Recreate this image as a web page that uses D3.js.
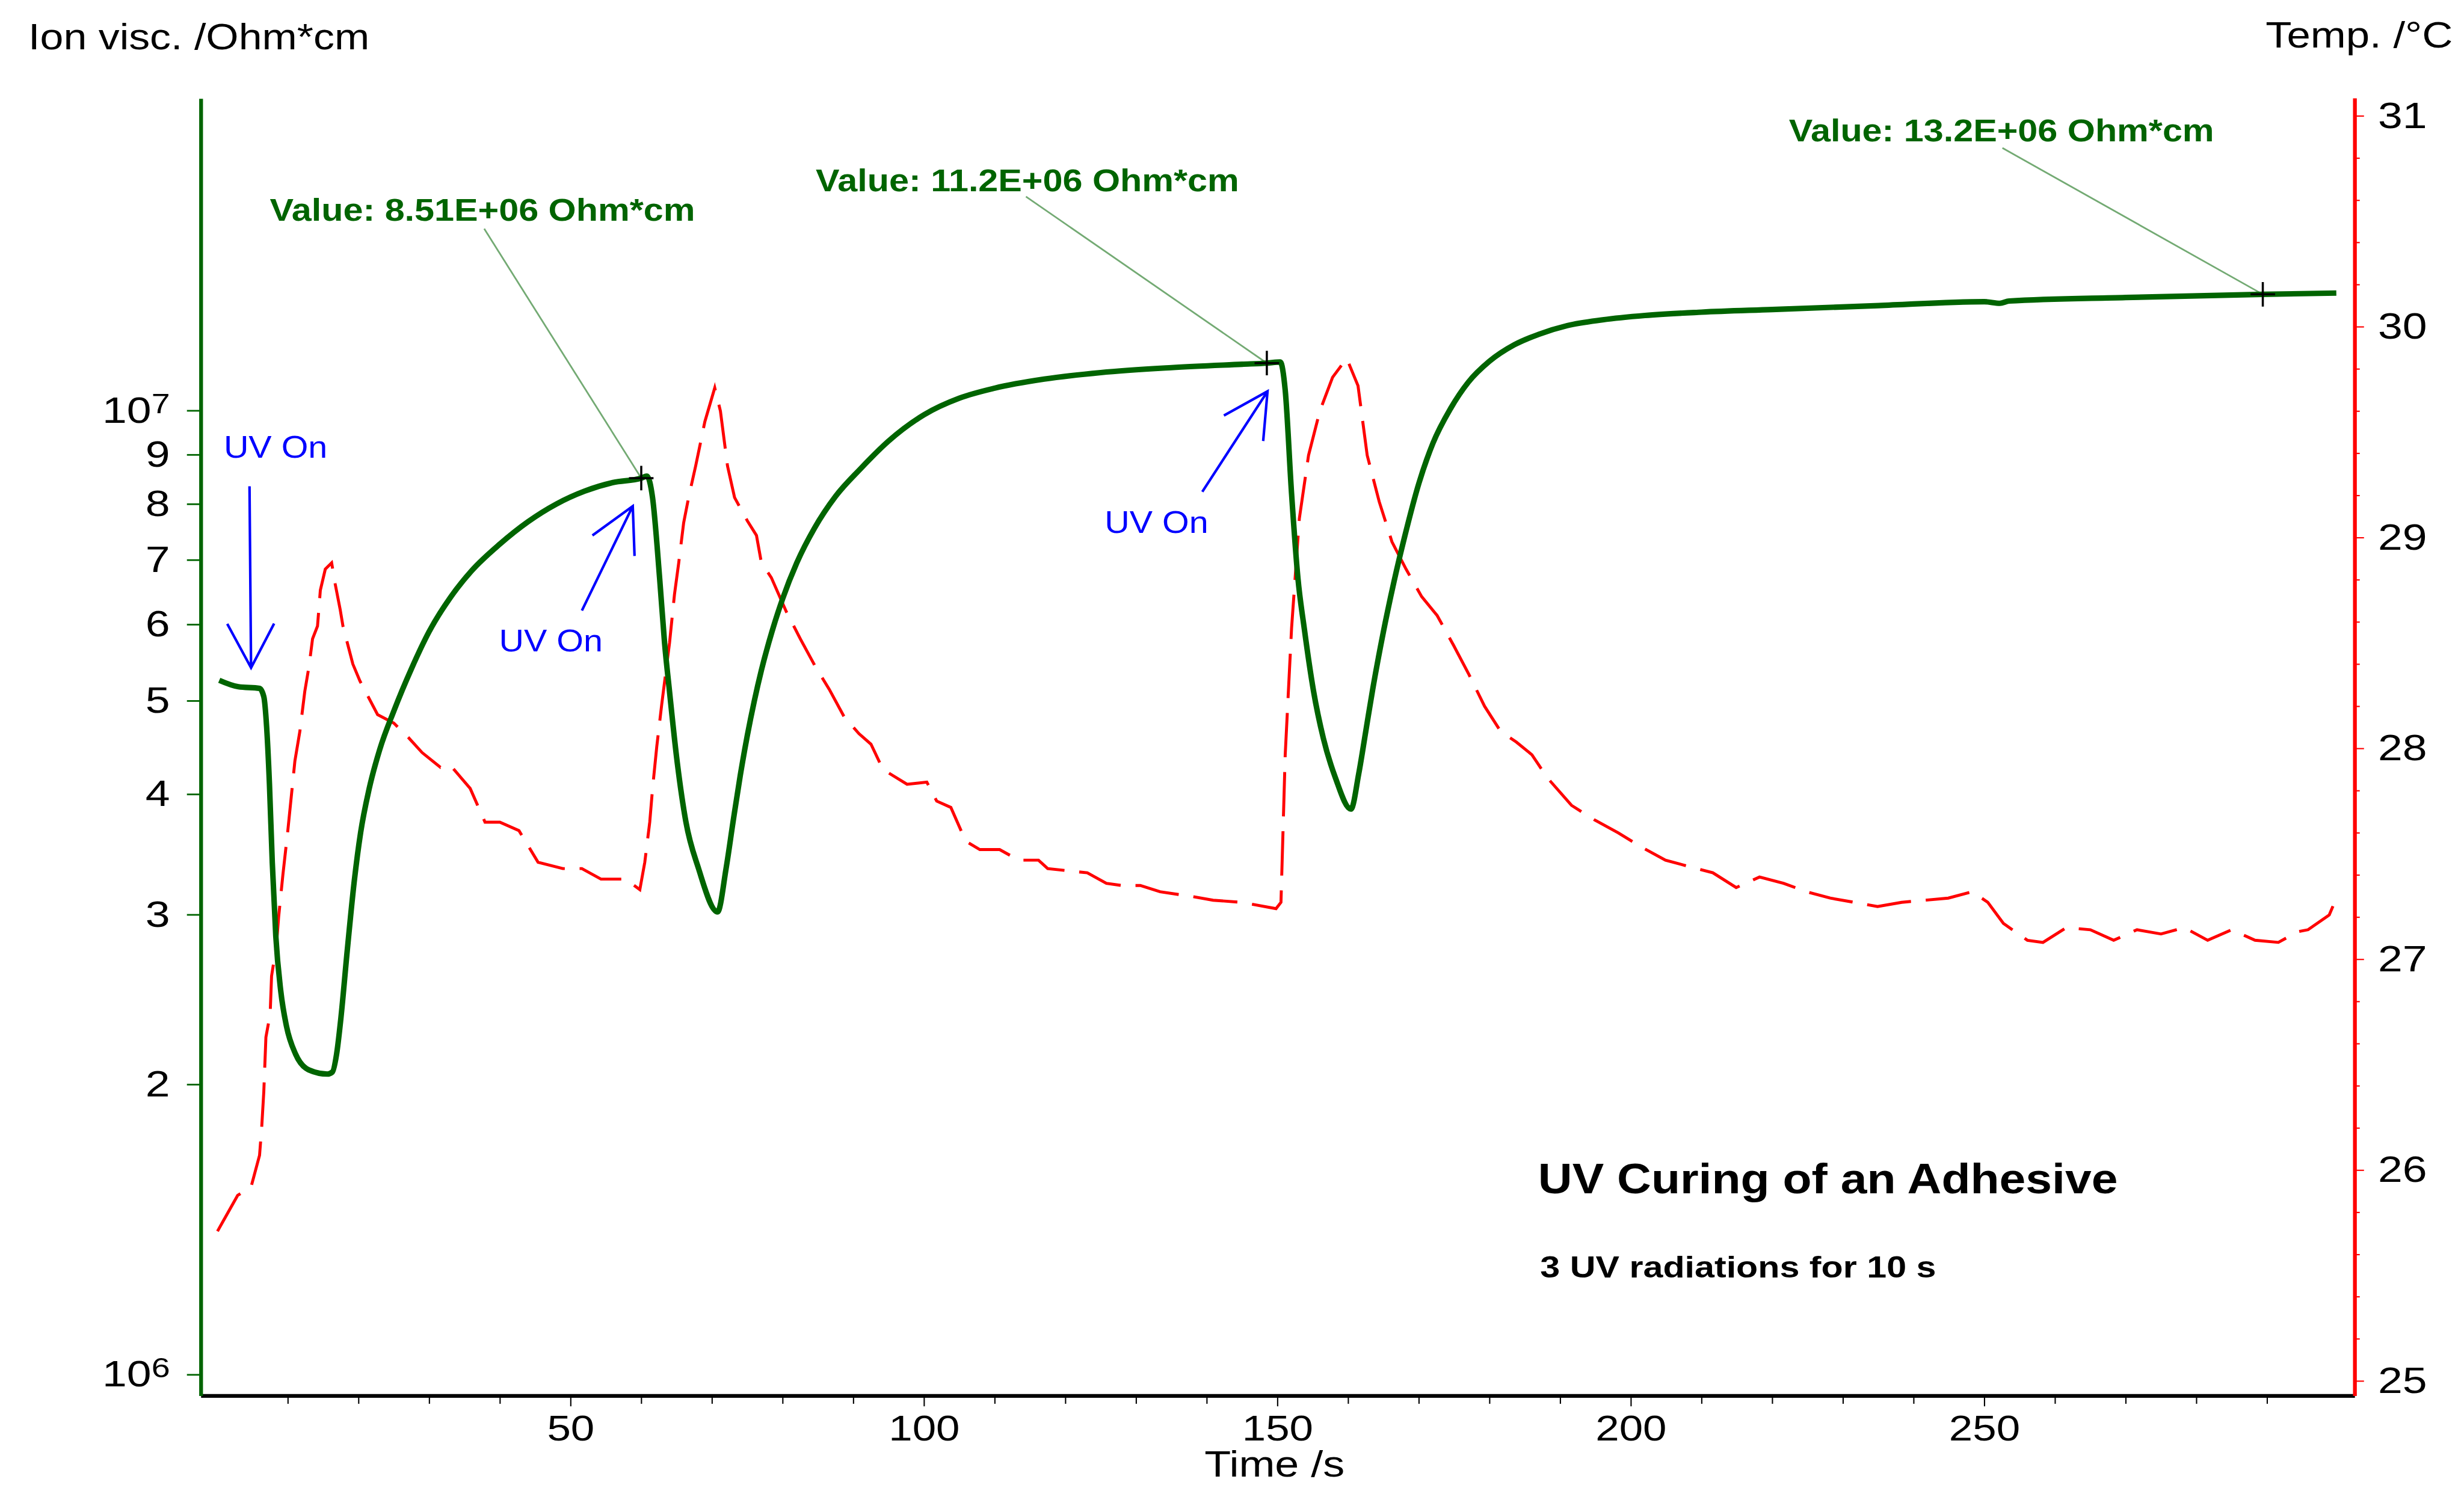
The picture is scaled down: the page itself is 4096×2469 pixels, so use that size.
<!DOCTYPE html>
<html>
<head>
<meta charset="utf-8">
<script src="https://cdn.jsdelivr.net/npm/d3@7"></script>
<style>
  html, body { margin: 0; padding: 0; background: #fff; }
  svg { display: block; }
  text { font-family: Arial, "Liberation Sans", sans-serif; }
</style>
</head>
<body>
<div id="chart"></div>
<script>
// ion viscosity (Ohm*cm), green, log axis
const ionTime = [0.3, 3.0, 6.0, 6.6, 7.0, 7.4, 7.8, 8.3, 9.0, 9.8, 11.1, 13.0, 15.6, 16.3, 16.9, 17.5, 18.4, 19.4, 20.3, 21.5,
  23.0, 25.0, 27.5, 30.0, 33.0, 36.0, 40.0, 44.0, 48.0, 52.0, 56.0, 60.0, 60.8, 61.6, 62.6, 63.3, 64.0, 65.0, 66.3, 68.1,
  70.8, 72.0, 73.0, 74.0, 75.0, 76.0, 77.0, 78.5, 80.0, 82.0, 84.5, 87.5, 91.0, 95.0, 100.0, 105.0, 110.0, 117.0, 125.0, 135.0,
  145.0, 148.5, 150.4, 151.1, 152.0, 152.9, 153.8, 155.1, 156.5, 158.2, 160.4, 161.5, 162.5, 163.5, 165.0, 166.5, 168.0, 170.0, 172.0, 174.5,
  177.0, 180.0, 183.5, 187.0, 191.0, 196.0, 202.0, 210.0, 220.0, 235.0, 250.0, 252.2, 253.5, 270.0, 289.4, 299.8];
const ionValue = [5.25e6, 5.17e6, 5.15e6, 5.05e6, 4.7e6, 4.1e6, 3.4e6, 2.85e6, 2.5e6, 2.3e6, 2.15e6, 2.07e6, 2.05e6, 2.06e6, 2.15e6, 2.34e6, 2.75e6, 3.25e6, 3.65e6, 4.05e6,
  4.45e6, 4.88e6, 5.4e6, 5.9e6, 6.4e6, 6.82e6, 7.27e6, 7.67e6, 8.0e6, 8.25e6, 8.42e6, 8.51e6, 8.55e6, 8.12e6, 6.70e6, 5.74e6, 5.11e6, 4.37e6, 3.75e6, 3.35e6,
  3.02e6, 3.35e6, 3.75e6, 4.18e6, 4.6e6, 5.0e6, 5.38e6, 5.9e6, 6.38e6, 6.95e6, 7.55e6, 8.15e6, 8.7e6, 9.3e6, 9.9e6, 10.3e6, 10.55e6, 10.78e6, 10.95e6, 11.08e6,
  11.17e6, 11.2e6, 11.23e6, 10.5e6, 8.2e6, 6.7e6, 5.94e6, 5.12e6, 4.57e6, 4.16e6, 3.86e6, 4.2e6, 4.65e6, 5.15e6, 5.9e6, 6.65e6, 7.4e6, 8.4e6, 9.25e6, 10.05e6,
  10.7e6, 11.25e6, 11.7e6, 12.0e6, 12.25e6, 12.42e6, 12.55e6, 12.65e6, 12.73e6, 12.85e6, 12.97e6, 12.92e6, 12.99e6, 13.1e6, 13.2e6, 13.24e6];

// temperature (°C), red dashed, right axis
const tempTime = [0.05, 2.9, 4.8, 6.0, 6.3, 6.6, 6.9, 7.5, 7.7, 8.4, 8.7, 9.3, 10.0, 11.0, 11.7, 12.4, 13.0, 13.5, 14.2, 14.6,
  15.3, 16.2, 16.7, 17.4, 17.8, 19.2, 20.2, 22.7, 25.0, 27.1, 29.0, 31.6, 33.0, 35.8, 37.9, 40.0, 42.7, 45.4, 48.9, 51.6,
  54.3, 57.8, 59.8, 60.5, 61.2, 61.6, 62.2, 62.9, 64.0, 64.7, 65.3, 66.0, 66.7, 67.7, 69.0, 70.4, 71.2, 72.2, 73.2, 75.0,
  76.3, 77.0, 78.4, 80.5, 82.5, 84.6, 86.6, 88.7, 90.8, 92.5, 94.2, 97.6, 100.4, 101.8, 103.8, 105.9, 107.9, 110.7, 113.4, 116.2,
  117.5, 120.3, 123.1, 125.8, 127.9, 130.6, 133.4, 137.5, 140.9, 144.9, 149.8, 150.5, 151.1, 152.0, 153.1, 154.4, 156.0, 157.8, 159.8, 161.4,
  162.7, 164.4, 166.2, 168.2, 170.4, 172.6, 174.9, 177.1, 179.3, 181.6, 183.8, 186.0, 188.2, 191.6, 194.9, 198.2, 201.6, 204.9, 208.2, 211.6,
  214.9, 218.2, 221.6, 224.9, 228.2, 231.6, 234.9, 238.3, 241.6, 244.9, 248.3, 250.5, 252.7, 256.1, 258.3, 261.6, 265.0, 268.3, 271.6, 275.0,
  278.3, 281.6, 285.0, 288.3, 291.6, 294.3, 295.8, 298.8, 299.8];
const tempValue = [25.71, 25.88, 25.92, 26.07, 26.2, 26.37, 26.63, 26.74, 26.92, 27.07, 27.2, 27.4, 27.61, 27.94, 28.08, 28.27, 28.39, 28.52, 28.58, 28.75,
  28.85, 28.88, 28.78, 28.66, 28.58, 28.40, 28.32, 28.16, 28.12, 28.05, 27.98, 27.91, 27.92, 27.81, 27.65, 27.65, 27.61, 27.46, 27.43, 27.43,
  27.38, 27.38, 27.33, 27.46, 27.65, 27.81, 28.01, 28.21, 28.50, 28.73, 28.88, 29.07, 29.19, 29.34, 29.55, 29.71, 29.6, 29.34, 29.19, 29.08,
  29.01, 28.88, 28.81, 28.65, 28.52, 28.39, 28.28, 28.15, 28.07, 28.02, 27.90, 27.83, 27.84, 27.75, 27.72, 27.56, 27.52, 27.52, 27.47, 27.47,
  27.43, 27.42, 27.41, 27.36, 27.35, 27.35, 27.32, 27.30, 27.28, 27.27, 27.24, 27.27, 27.97, 28.57, 29.09, 29.39, 29.60, 29.76, 29.85, 29.72,
  29.39, 29.17, 28.98, 28.85, 28.72, 28.63, 28.49, 28.35, 28.20, 28.08, 28.03, 27.97, 27.86, 27.73, 27.66, 27.60, 27.53, 27.47, 27.44, 27.41,
  27.34, 27.39, 27.36, 27.32, 27.29, 27.27, 27.25, 27.27, 27.28, 27.29, 27.32, 27.27, 27.17, 27.09, 27.08, 27.15, 27.14, 27.09, 27.14, 27.12,
  27.15, 27.09, 27.14, 27.09, 27.08, 27.13, 27.14, 27.21, 27.29];

const leftTicks = [1e6, 2e6, 3e6, 4e6, 5e6, 6e6, 7e6, 8e6, 9e6, 1e7];
const rightTicks = [25, 26, 27, 28, 29, 30, 31];
const rightMinor = [25.2, 25.4, 25.6, 25.8, 26.2, 26.4, 26.6, 26.8, 27.2, 27.4, 27.6, 27.8, 28.2, 28.4, 28.6, 28.8,
  29.2, 29.4, 29.6, 29.8, 30.2, 30.4, 30.6, 30.8];
const timeTicks = [50, 100, 150, 200, 250];
const timeMinor = [10, 20, 30, 40, 60, 70, 80, 90, 110, 120, 130, 140, 160, 170, 180, 190, 210, 220, 230, 240, 260, 270, 280, 290];

// marked values
const markTime = [60, 148.5, 289.4];
const markValue = [8.51e6, 11.2e6, 13.2e6];
const markLabel = ["Value: 8.51E+06 Ohm*cm", "Value: 11.2E+06 Ohm*cm", "Value: 13.2E+06 Ohm*cm"];

// UV on arrows (tip on data)
const uvTime = [4.8, 58.8, 148.6];
const uvValue = [5.41e6, 7.96e6, 10.47e6];

// drawing in reference pixels, scaled down to the window
const S = 0.703;
const GREEN = "#006400", RED = "#ff0000", BLUE = "#0000ff";

const svg = d3.select("#chart").append("svg")
  .attr("width", 4096)
  .attr("height", 2469);
svg.append("rect").attr("width", 4096).attr("height", 2469).attr("fill", "#fff");
const g = svg.append("g").attr("transform", `scale(${S})`);

const plot = { left: 475, right: 5568, top: 233, bottom: 3301 };

const x = d3.scaleLinear().domain([-2.3, 302.4]).range([plot.left, plot.right]);

const yLbase = d3.scaleLog().domain([1e6, 1e7]).range([3251, 971]);
const yL = d3.scaleLog()
  .domain([yLbase.invert(plot.bottom), yLbase.invert(plot.top)])
  .range([plot.bottom, plot.top]);

const yRbase = d3.scaleLinear().domain([25, 31]).range([3266, 274]);
const yR = d3.scaleLinear()
  .domain([yRbase.invert(plot.bottom), yRbase.invert(plot.top - 1)])
  .range([plot.bottom, plot.top - 1]);

function addText(str, px, py, size, opt = {}) {
  return g.append("text")
    .attr("transform", `translate(${px},${py}) scale(${opt.sx || 1.15},1)`)
    .attr("text-anchor", opt.anchor || "start")
    .attr("font-size", size)
    .attr("font-weight", opt.weight || "normal")
    .attr("fill", opt.fill || "#000")
    .text(str);
}

// --- temperature line (drawn first, under the green)
const tempData = tempTime.map((t, i) => [t, tempValue[i]]);
g.append("path")
  .datum(tempData)
  .attr("fill", "none")
  .attr("stroke", RED)
  .attr("stroke-width", 7)
  .attr("stroke-dasharray", "105,35")
  .attr("d", d3.line().x(d => x(d[0])).y(d => yR(d[1])));

// --- ion viscosity line
const ionData = ionTime.map((t, i) => [t, ionValue[i]]);
g.append("path")
  .datum(ionData)
  .attr("fill", "none")
  .attr("stroke", GREEN)
  .attr("stroke-width", 13)
  .attr("stroke-linejoin", "round")
  .attr("d", d3.line().curve(d3.curveMonotoneX).x(d => x(d[0])).y(d => yL(d[1])));

// --- x axis
const xMinor = g.append("g")
  .attr("transform", `translate(0,${plot.bottom})`)
  .call(d3.axisBottom(x).tickValues(timeMinor).tickSize(19).tickSizeOuter(0).tickFormat(""));
xMinor.select(".domain").remove();
xMinor.selectAll(".tick line").attr("stroke", "#000").attr("stroke-width", 3);

const xAxis = g.append("g")
  .attr("transform", `translate(0,${plot.bottom})`)
  .call(d3.axisBottom(x).tickValues(timeTicks).tickSize(25).tickPadding(21).tickSizeOuter(0));
xAxis.select(".domain").attr("stroke", "#000").attr("stroke-width", 9);
xAxis.selectAll(".tick line").attr("stroke", "#000").attr("stroke-width", 3);
xAxis.selectAll(".tick text")
  .attr("font-size", 84)
  .attr("font-family", "Arial, 'Liberation Sans', sans-serif")
  .attr("fill", "#000")
  .attr("transform", "scale(1.2,1)");

// --- left axis (log)
const leftAxis = g.append("g")
  .attr("transform", `translate(${plot.left},0)`)
  .call(d3.axisLeft(yL).tickValues(leftTicks).tickSize(33).tickPadding(0).tickSizeOuter(0)
    .tickFormat(d => String(Math.round(d / Math.pow(10, Math.floor(Math.log10(d) + 1e-9))))));
leftAxis.select(".domain").attr("stroke", GREEN).attr("stroke-width", 9);
leftAxis.selectAll(".tick line").attr("stroke", GREEN).attr("stroke-width", 4);
leftAxis.selectAll(".tick text")
  .attr("font-size", 87)
  .attr("font-family", "Arial, 'Liberation Sans', sans-serif")
  .attr("fill", "#000")
  .attr("x", 0)
  .attr("transform", "translate(-73,0) scale(1.2,1)")
  .each(function (d) {
    const e = Math.log10(d);
    if (Math.abs(e - Math.round(e)) < 1e-9) {
      const t = d3.select(this).text("10");
      t.append("tspan")
        .attr("font-size", 66)
        .attr("dy", "-0.33em")
        .text(String(Math.round(e)));
    }
  });

// --- right axis (temperature)
const rMinor = g.append("g")
  .attr("transform", `translate(${plot.right},0)`)
  .call(d3.axisRight(yR).tickValues(rightMinor).tickSize(12).tickSizeOuter(0).tickFormat(""));
rMinor.select(".domain").remove();
rMinor.selectAll(".tick line").attr("stroke", RED).attr("stroke-width", 3);

const rightAxis = g.append("g")
  .attr("transform", `translate(${plot.right},0)`)
  .call(d3.axisRight(yR).tickValues(rightTicks).tickSize(22).tickPadding(0).tickSizeOuter(0)
    .tickFormat(d3.format("d")));
rightAxis.select(".domain").attr("stroke", RED).attr("stroke-width", 9);
rightAxis.selectAll(".tick line").attr("stroke", RED).attr("stroke-width", 3);
rightAxis.selectAll(".tick text")
  .attr("font-size", 87)
  .attr("font-family", "Arial, 'Liberation Sans', sans-serif")
  .attr("fill", "#000")
  .attr("x", 0)
  .attr("transform", "translate(55,0) scale(1.2,1)");

// --- axis titles
addText("Ion visc. /Ohm*cm", 67, 117, 88, { sx: 1.13 });
addText("Temp. /°C", 5800, 113, 86, { anchor: "end", sx: 1.17 });
addText("Time /s", 2848, 3492, 86, { sx: 1.19 });

// --- chart title
addText("UV Curing of an Adhesive", 3637, 2822, 100, { weight: "bold", sx: 1.12 });
addText("3 UV radiations for 10 s", 3642, 3022, 72, { weight: "bold", sx: 1.17 });

// --- value markers with leader lines
const labelPos = [[638, 522], [1929, 452], [4230, 334]];
const leaderStart = [[1145, 541], [2426, 465], [4735, 350]];
markTime.forEach((t, i) => {
  const mx = x(t), my = yL(markValue[i]);
  g.append("line")
    .attr("x1", leaderStart[i][0]).attr("y1", leaderStart[i][1])
    .attr("x2", mx).attr("y2", my)
    .attr("stroke", GREEN).attr("stroke-opacity", 0.55).attr("stroke-width", 4);
  g.append("path")
    .attr("d", `M${mx - 29},${my}H${mx + 29}M${mx},${my - 29}V${my + 29}`)
    .attr("stroke", "#000").attr("stroke-width", 5);
  addText(markLabel[i], labelPos[i][0], labelPos[i][1], 74, { weight: "bold", fill: GREEN, sx: 1.14 });
});

// --- UV On arrows
const uvTail = [[590, 1150], [1376, 1444], [2843, 1163]];
const uvLabelPos = [[529, 1083], [1180, 1540], [2612, 1260]];
uvTime.forEach((t, i) => {
  const tx = x(t), ty = yL(uvValue[i]);
  const [sx, sy] = uvTail[i];
  const len = Math.hypot(sx - tx, sy - ty);
  const ux = (sx - tx) / len, uy = (sy - ty) / len;
  const a = 28 * Math.PI / 180, bl = 118;
  const b1 = [tx + bl * (ux * Math.cos(a) - uy * Math.sin(a)), ty + bl * (ux * Math.sin(a) + uy * Math.cos(a))];
  const b2 = [tx + bl * (ux * Math.cos(-a) - uy * Math.sin(-a)), ty + bl * (ux * Math.sin(-a) + uy * Math.cos(-a))];
  g.append("path")
    .attr("d", `M${sx},${sy}L${tx},${ty}M${b1[0]},${b1[1]}L${tx},${ty}L${b2[0]},${b2[1]}`)
    .attr("fill", "none")
    .attr("stroke", BLUE)
    .attr("stroke-width", 6)
    .attr("stroke-linejoin", "miter");
  addText("UV On", uvLabelPos[i][0], uvLabelPos[i][1], 75, { fill: BLUE, sx: 1.09 });
});
</script>
</body>
</html>
